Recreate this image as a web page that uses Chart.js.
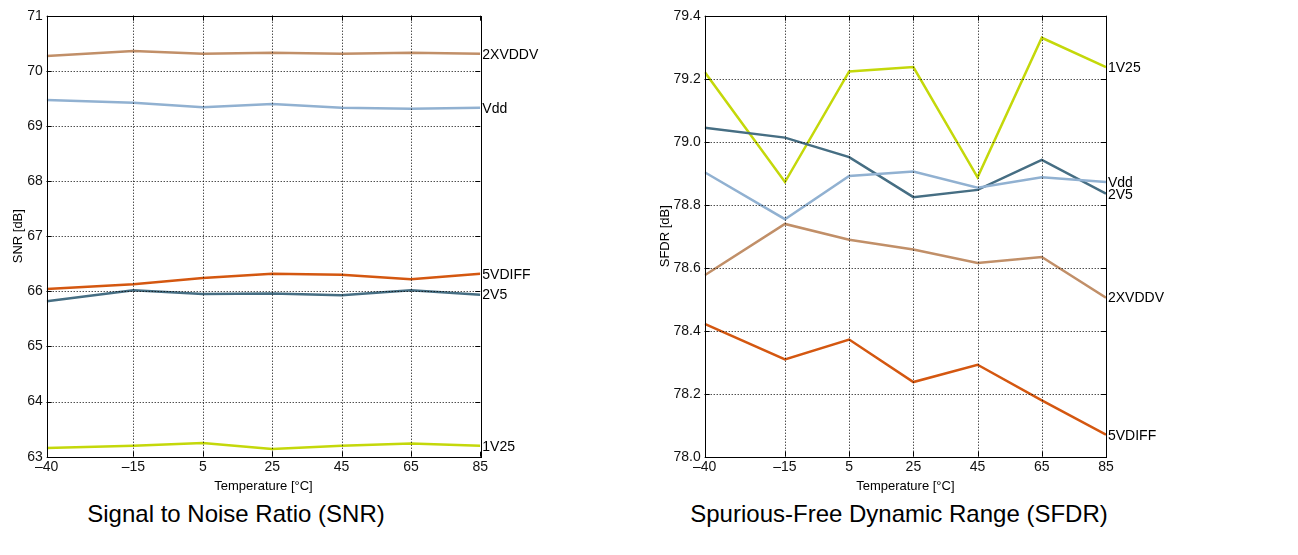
<!DOCTYPE html>
<html>
<head>
<meta charset="utf-8">
<script src="https://cdn.jsdelivr.net/npm/chart.js@4.4.0/dist/chart.umd.min.js"></script>
<style>
  body { margin: 0; background: #fff; width: 1298px; height: 555px; overflow: hidden; position: relative; }
  canvas { position: absolute; top: 0; }
  #snrCanvas { left: 0; }
  #sfdrCanvas { left: 650px; }
  .title { position: absolute; top: 500px; font: 24px "Liberation Sans", Arial, sans-serif; color: #000; white-space: nowrap; transform: translateX(-50%); }
</style>
</head>
<body>
<canvas id="snrCanvas" width="650" height="500"></canvas>
<canvas id="sfdrCanvas" width="648" height="500"></canvas>
<div class="title" style="left:236px">Signal to Noise Ratio (SNR)</div>
<div class="title" style="left:899px">Spurious-Free Dynamic Range (SFDR)</div>
<script>
// temperatures [°C]
const temps = [-40, -15, 5, 25, 45, 65, 85];
const seriesNames = ['2XVDDV', 'Vdd', '5VDIFF', '2V5', '1V25'];

// SNR [dB]
const snr2XVDDV = [70.27, 70.36, 70.31, 70.33, 70.31, 70.33, 70.31];
const snrVdd    = [69.47, 69.42, 69.34, 69.40, 69.33, 69.31, 69.33];
const snr5VDIFF = [66.04, 66.13, 66.24, 66.32, 66.30, 66.22, 66.32];
const snr2V5    = [65.82, 66.02, 65.95, 65.96, 65.93, 66.02, 65.94];
const snr1V25   = [63.16, 63.20, 63.25, 63.14, 63.20, 63.24, 63.20];

// SFDR [dB]
const sfdr2XVDDV = [78.576, 78.739, 78.689, 78.658, 78.615, 78.634, 78.505];
const sfdrVdd    = [78.903, 78.754, 78.891, 78.905, 78.854, 78.887, 78.872];
const sfdr5VDIFF = [78.422, 78.309, 78.372, 78.237, 78.292, 78.179, 78.070];
const sfdr2V5    = [79.044, 79.013, 78.951, 78.824, 78.847, 78.942, 78.835];
const sfdr1V25   = [79.221, 78.872, 79.223, 79.237, 78.887, 79.330, 79.237];

const colors = {
  '2XVDDV': '#c18f68',
  'Vdd': '#91b1d1',
  '5VDIFF': '#d45710',
  '2V5': '#466e83',
  '1V25': '#c4d80a'
};

const FONT = '"Liberation Sans", Arial, sans-serif';

function toPoints(values) {
  return values.map((v, i) => ({ x: temps[i], y: v }));
}

function makeDatasets(lists) {
  return lists.map((vals, i) => ({
    label: seriesNames[i],
    data: toPoints(vals),
    borderColor: colors[seriesNames[i]],
    borderWidth: 2.5,
    pointRadius: 0,
    tension: 0,
    fill: false
  }));
}

// frame, dotted grid, inward ticks, line end labels and axis titles
const decorPlugin = {
  id: 'decor',
  afterDatasetsDraw(chart) {
    const { ctx, chartArea: a, scales } = chart;
    const xs = scales.x, ys = scales.y;
    ctx.save();
    ctx.strokeStyle = '#000';
    ctx.lineWidth = 1;
    ctx.setLineDash([1, 2]);
    ctx.beginPath();
    xs.ticks.forEach(t => {
      const px = Math.round(xs.getPixelForValue(t.value)) + 0.5;
      if (px > a.left + 2 && px < a.right - 2) { ctx.moveTo(px, a.top); ctx.lineTo(px, a.bottom); }
    });
    ys.ticks.forEach(t => {
      const py = Math.round(ys.getPixelForValue(t.value)) + 0.5;
      if (py > a.top + 2 && py < a.bottom - 2) { ctx.moveTo(a.left, py); ctx.lineTo(a.right, py); }
    });
    ctx.stroke();
    ctx.setLineDash([]);
    ctx.beginPath();
    xs.ticks.forEach(t => {
      const px = Math.round(xs.getPixelForValue(t.value)) + 0.5;
      ctx.moveTo(px, a.bottom); ctx.lineTo(px, a.bottom - 5);
      ctx.moveTo(px, a.top); ctx.lineTo(px, a.top + 5);
    });
    ys.ticks.forEach(t => {
      const py = Math.round(ys.getPixelForValue(t.value)) + 0.5;
      ctx.moveTo(a.left, py); ctx.lineTo(a.left + 5, py);
      ctx.moveTo(a.right, py); ctx.lineTo(a.right - 5, py);
    });
    ctx.stroke();
    ctx.strokeRect(Math.round(a.left) + 0.5, Math.round(a.top) + 0.5, Math.round(a.right - a.left), Math.round(a.bottom - a.top));

    ctx.fillStyle = '#000';
    ctx.font = '14px ' + FONT;
    ctx.textAlign = 'left';
    ctx.textBaseline = 'middle';
    chart.data.datasets.forEach((ds, i) => {
      const pts = chart.getDatasetMeta(i).data;
      const last = pts[pts.length - 1];
      ctx.fillText(ds.label, a.right + 2, last.y + 1);
    });

    const opts = chart.options.plugins.decor;
    ctx.font = '13px ' + FONT;
    ctx.textAlign = 'center';
    ctx.textBaseline = 'middle';
    ctx.fillText('Temperature [°C]', (a.left + a.right) / 2, a.bottom + 30);
    ctx.save();
    ctx.translate(opts.yTitleX, (a.top + a.bottom) / 2);
    ctx.rotate(-Math.PI / 2);
    ctx.fillText(opts.yTitle, 0, 0);
    ctx.restore();
    ctx.restore();
  }
};

function makeChart(id, lists, yMin, yMax, yStep, yDigits, yAxisWidth, rightPad, yTitle, yTitleX) {
  return new Chart(document.getElementById(id).getContext('2d'), {
    type: 'line',
    data: { datasets: makeDatasets(lists) },
    plugins: [decorPlugin],
    options: {
      responsive: false,
      animation: false,
      layout: { padding: { left: 0, right: rightPad, top: 15.7, bottom: 0 } },
      plugins: {
        legend: { display: false },
        tooltip: { enabled: false },
        decor: { yTitle: yTitle, yTitleX: yTitleX }
      },
      scales: {
        x: {
          type: 'linear',
          min: -40,
          max: 85,
          grid: { display: false, drawTicks: false },
          border: { display: false },
          afterBuildTicks: s => { s.ticks = temps.map(v => ({ value: v })); },
          afterFit: s => { s.height = 43.3; },
          ticks: {
            padding: 2,
            maxRotation: 0,
            autoSkip: false,
            color: '#111',
            font: { family: FONT, size: 14 },
            callback: v => (v < 0 ? '\u2013' + Math.abs(v) : String(v))
          }
        },
        y: {
          min: yMin,
          max: yMax,
          grid: { display: false, drawTicks: false },
          border: { display: false },
          afterFit: s => { s.width = yAxisWidth; },
          ticks: {
            stepSize: yStep,
            padding: 4,
            color: '#111',
            font: { family: FONT, size: 14 },
            callback: v => Number(v).toFixed(yDigits)
          }
        }
      }
    }
  });
}

makeChart('snrCanvas', [snr2XVDDV, snrVdd, snr5VDIFF, snr2V5, snr1V25],
  63, 71, 1, 0, 46.7, 169.7, 'SNR [dB]', 18);
makeChart('sfdrCanvas', [sfdr2XVDDV, sfdrVdd, sfdr5VDIFF, sfdr2V5, sfdr1V25],
  78, 79.4, 0.2, 1, 54.7, 192, 'SFDR [dB]', 15);
</script>
</body>
</html>
